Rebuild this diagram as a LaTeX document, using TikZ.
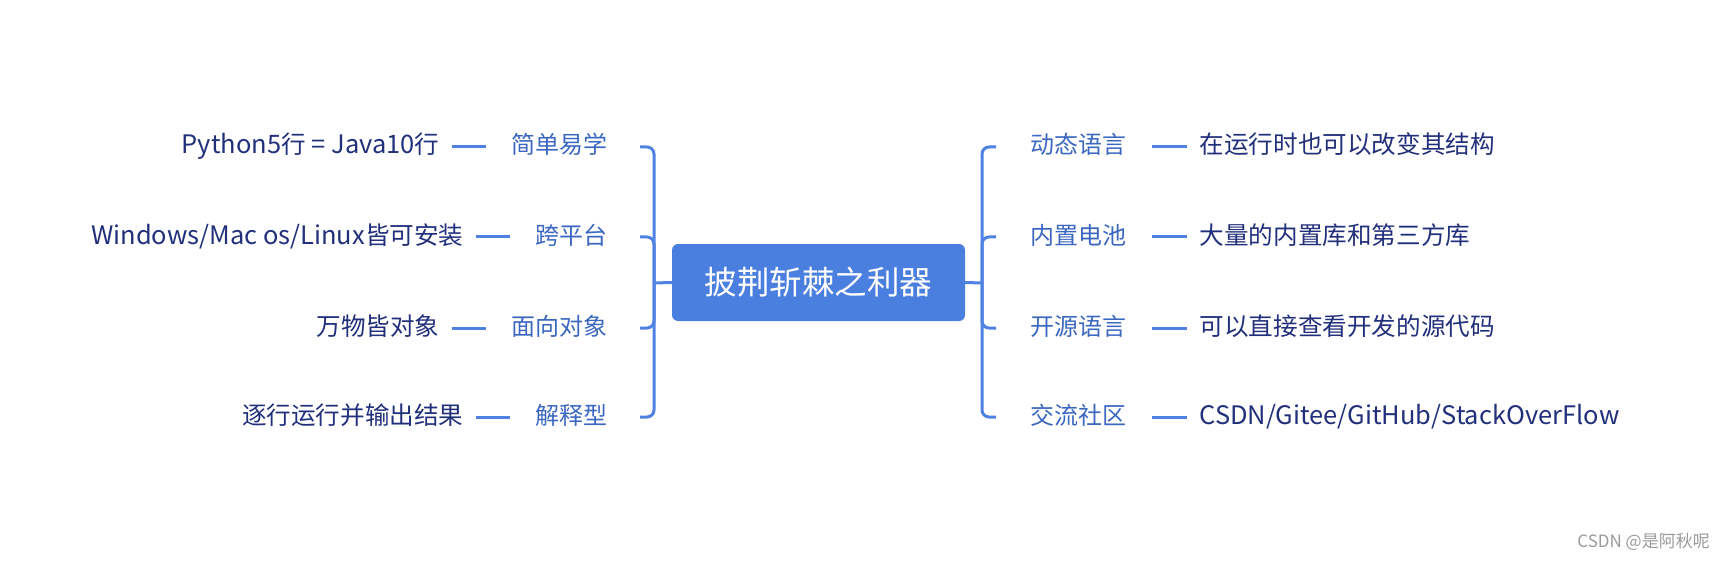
\documentclass[tikz,border=0pt]{standalone}
\usepackage{fontspec}
\newfontfamily\cjk{Noto Sans CJK SC}
\newfontfamily\latin{Noto Sans CJK SC}[Scale=1.035]
\usetikzlibrary{positioning}
\definecolor{linkblue}{HTML}{4F82E2}
\definecolor{boxblue}{HTML}{4A7FE0}
\definecolor{topicblue}{HTML}{3B67C0}
\definecolor{leafnavy}{HTML}{22307C}
\definecolor{markgray}{HTML}{9A9A9A}

\begin{document}
\begin{tikzpicture}[x=1pt,y=-1pt,
	root/.style={fill=boxblue, text=white, rounded corners=6pt, minimum width=293pt, minimum height=77pt, inner sep=0pt, font=\cjk\fontsize{32.5}{38}\selectfont},
	topic/.style={text=topicblue, inner sep=0pt, text height=19pt, text depth=5pt, font=\cjk\fontsize{24}{28}\selectfont},
	leaf/.style={text=leafnavy, inner sep=0pt, text height=19pt, text depth=5pt, font=\cjk\fontsize{24.6}{28}\selectfont},
	branch/.style={draw=linkblue, line width=3pt, rounded corners=7pt},
	twig/.style={draw=linkblue, line width=3pt, shorten <=12pt, shorten >=26pt}]
	\useasboundingbox (0,0) rectangle (1724,564);
			\node[root] (root) at (818.5,282.5) {披荆斩棘之利器};
			\coordinate (lb) at (654,283);
			\coordinate (rb) at (982,283);
			\node[topic, anchor=east] (a1) at (608,147) {简单易学};
			\node[topic, anchor=east] (a2) at (608,237) {跨平台};
			\node[topic, anchor=east] (a3) at (608,328) {面向对象};
			\node[topic, anchor=east] (a4) at (608,417) {解释型};
			\node[topic, anchor=west] (c1) at (1030,147) {动态语言};
			\node[topic, anchor=west] (c2) at (1030,237) {内置电池};
			\node[topic, anchor=west] (c3) at (1030,328) {开源语言};
			\node[topic, anchor=west] (c4) at (1030,417) {交流社区};
			\node[leaf, left=72pt of a1] (b1) {{\latin Python5}行{\latin\ = Java10}行};
			\node[leaf, left=72pt of a2] (b2) {{\latin Windows/Mac os/Linux}皆可安装};
			\node[leaf, left=72pt of a3] (b3) {万物皆对象};
			\node[leaf, left=72pt of a4] (b4) {逐行运行并输出结果};
			\node[leaf, right=73pt of c1] (d1) {在运行时也可以改变其结构};
			\node[leaf, right=73pt of c2] (d2) {大量的内置库和第三方库};
			\node[leaf, right=73pt of c3] (d3) {可以直接查看开发的源代码};
			\node[leaf, right=73pt of c4] (d4) {{\latin CSDN/Gitee/GitHub/StackOverFlow}};
			\draw[branch] (root.west) -- (lb);
			\draw[branch] (root.east) -- (rb);
			\foreach \i in {1,...,4} {
				\draw[branch] ([xshift=32pt]a\i.east) -| (lb);
				\draw[branch] ([xshift=-34pt]c\i.west) -| (rb);
				\draw[twig] (b\i) -- (a\i);
				\draw[twig] (d\i) -- (c\i);
			}
			\node[anchor=east, inner sep=0pt, text=markgray, font=\cjk\fontsize{17}{20}\selectfont] (mark) at (1710,542) {CSDN @是阿秋呢};
		\end{tikzpicture}
\end{document}
